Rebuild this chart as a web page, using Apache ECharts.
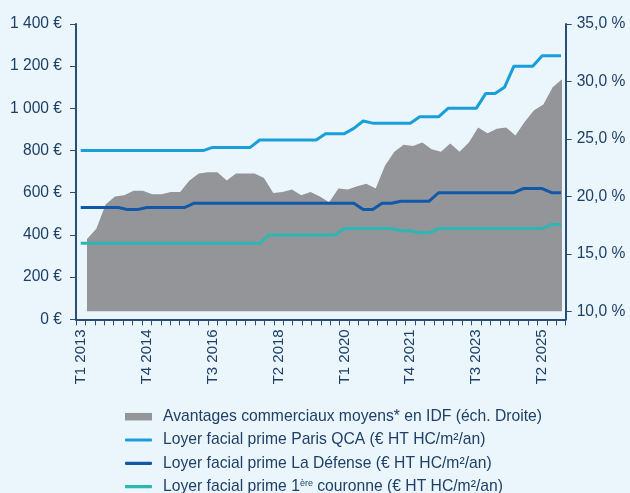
<!DOCTYPE html>
<html>
<head>
<meta charset="utf-8">
<script src="https://cdn.jsdelivr.net/npm/echarts@6/dist/echarts.min.js"></script>
<style>
html,body{margin:0;padding:0;background:#eaf6fc;}
#c{width:630px;height:493px;}
</style>
</head>
<body>
<div id="c"></div>
<script>
var categories = [
 'T1 2013','T2 2013','T3 2013','T4 2013',
 'T1 2014','T2 2014','T3 2014','T4 2014',
 'T1 2015','T2 2015','T3 2015','T4 2015',
 'T1 2016','T2 2016','T3 2016','T4 2016',
 'T1 2017','T2 2017','T3 2017','T4 2017',
 'T1 2018','T2 2018','T3 2018','T4 2018',
 'T1 2019','T2 2019','T3 2019','T4 2019',
 'T1 2020','T2 2020','T3 2020','T4 2020',
 'T1 2021','T2 2021','T3 2021','T4 2021',
 'T1 2022','T2 2022','T3 2022','T4 2022',
 'T1 2023','T2 2023','T3 2023','T4 2023',
 'T1 2024','T2 2024','T3 2024','T4 2024',
 'T1 2025','T2 2025','T3 2025','T4 2025'
];

// Avantages commerciaux moyens (%), right axis
var avantages = [16.3,17.2,19.3,20.0,20.1,20.5,20.5,20.2,20.2,20.4,20.4,21.4,22.0,22.1,22.1,21.4,22.0,22.0,22.0,21.6,
 20.3,20.4,20.6,20.1,20.4,20.0,19.5,20.7,20.6,20.9,21.1,20.7,22.7,23.9,24.5,24.4,24.7,24.1,23.9,24.6,
 23.9,24.7,26.0,25.5,25.9,26.0,25.3,26.5,27.5,28.0,29.5,30.2];

// Loyers faciaux prime (€ HT HC/m²/an), left axis
var parisQCA = [800,800,800,800,800,800,800,800,800,800,800,800,800,800,
 815,815,815,815,815,
 850,850,850,850,850,850,850,
 880,880,880,905,940,
 930,930,930,930,930,
 960,960,960,
 1000,1000,1000,1000,
 1070,1070,1100,
 1200,1200,1200,
 1250,1250,1250];

var laDefense = [530,530,530,530,530,520,520,530,530,530,530,530,
 550,550,550,550,550,550,550,550,550,550,550,550,550,550,550,550,550,550,
 520,520,550,550,560,560,560,560,
 600,600,600,600,600,600,600,600,600,
 620,620,620,600,600];

var couronne = [360,360,360,360,360,360,360,360,360,360,360,360,360,360,360,360,360,360,360,360,
 400,400,400,400,400,400,400,400,
 430,430,430,430,430,430,
 420,420,410,410,
 430,430,430,430,430,430,430,430,430,430,430,430,
 450,450];

var names = [
 'Avantages commerciaux moyens* en IDF (éch. Droite)',
 'Loyer facial prime Paris QCA (€ HT HC/m²/an)',
 'Loyer facial prime La Défense (€ HT HC/m²/an)',
 'Loyer facial prime 1ère couronne (€ HT HC/m²/an)'
];

var TXT = '#1e3f66';
var AX = '#2a4d77';
var FONT = '"Liberation Sans", Arial, sans-serif';
var C_AREA = '#939598', C_QCA = '#189fdb', C_DEF = '#1159a8', C_COUR = '#2db7b4';

function fmtEuro(v){
  var s = String(v);
  if (v >= 1000) s = s.slice(0, s.length-3) + ' ' + s.slice(s.length-3);
  return s + ' €';
}
function fmtPct(v){ return v.toFixed(1).replace('.', ',') + ' %'; }

var legendText = {color: TXT, fontSize: 15.7, lineHeight: 16, fontFamily: FONT, padding: [0,0,0,6],
  rich: {sup: {fontSize: 9, lineHeight: 16, verticalAlign: 'top', color: TXT, fontFamily: FONT}}};
function legendFmt(n){ return n.replace('ère', '{sup|ère}'); }

var chart = echarts.init(document.getElementById('c'), null, {renderer:'canvas'});
chart.setOption({
  animation: false,
  backgroundColor: '#eaf6fc',
  textStyle: {fontFamily: FONT},
  grid: [
    {left: 76, right: 64.3, top: 24, bottom: 173.7, containLabel: false},
    {left: 87, right: 68, top: 24, bottom: 181.5, containLabel: false}
  ],
  xAxis: [
    {
      type: 'category', gridIndex: 0, data: categories, boundaryGap: true,
      axisLine: {show: true, lineStyle: {color: AX, width: 2}},
      axisTick: {show: true, interval: 0, length: 6, lineStyle: {color: AX, width: 1}},
      axisLabel: {interval: 6, rotate: 90, margin: 10, color: TXT, fontSize: 15, fontFamily: FONT},
      splitLine: {show: false}
    },
    {
      type: 'category', gridIndex: 1, data: categories, boundaryGap: false, show: false
    }
  ],
  yAxis: [
    {
      type: 'value', gridIndex: 0, position: 'left', min: 0, max: 1400, interval: 200,
      axisLine: {show: true, lineStyle: {color: AX, width: 2}},
      axisTick: {show: true, length: 6, lineStyle: {color: AX, width: 1}},
      axisLabel: {margin: 14, color: TXT, fontSize: 15.6, fontFamily: FONT, formatter: fmtEuro},
      splitLine: {show: false}
    },
    {
      type: 'value', gridIndex: 0, position: 'right', min: 0, max: 1,
      axisLine: {show: true, lineStyle: {color: AX, width: 2}},
      axisTick: {show: false}, axisLabel: {show: false}, splitLine: {show: false}
    },
    {
      type: 'value', gridIndex: 1, position: 'right', offset: 3.7, min: 10, max: 35, interval: 5,
      axisLine: {show: false},
      axisTick: {show: true, length: 6, lineStyle: {color: AX, width: 1}},
      axisLabel: {margin: 11, color: TXT, fontSize: 15.6, fontFamily: FONT, formatter: fmtPct},
      splitLine: {show: false}
    }
  ],
  legend: [
    {
      orient: 'vertical', left: 125, top: 408.7, padding: 0,
      itemWidth: 27, itemHeight: 7.5, itemGap: 7.3,
      textStyle: legendText, formatter: legendFmt,
      data: [{name: names[0], icon: 'rect', itemStyle: {color: C_AREA}}]
    },
    {
      orient: 'vertical', left: 125, top: 432, padding: 0,
      itemWidth: 27, itemHeight: 3.2, itemGap: 7.3,
      textStyle: legendText, formatter: legendFmt,
      data: [
        {name: names[1], icon: 'roundRect', itemStyle: {color: C_QCA}},
        {name: names[2], icon: 'roundRect', itemStyle: {color: C_DEF}}
      ]
    },
    {
      orient: 'vertical', left: 125, top: 478.6, padding: 0,
      itemWidth: 27, itemHeight: 3.2, itemGap: 7.3,
      textStyle: legendText, formatter: legendFmt,
      data: [{name: names[3], icon: 'roundRect', itemStyle: {color: C_COUR}}]
    }
  ],
  series: [
    {
      name: names[0], type: 'line', xAxisIndex: 1, yAxisIndex: 2, data: avantages,
      symbol: 'none', showSymbol: false,
      itemStyle: {color: C_AREA},
      lineStyle: {width: 0, color: C_AREA},
      areaStyle: {color: C_AREA, opacity: 1, origin: 'start'},
      z: 1
    },
    {
      name: names[1], type: 'line', xAxisIndex: 0, yAxisIndex: 0, data: parisQCA,
      symbol: 'none', showSymbol: false, itemStyle: {color: C_QCA},
      lineStyle: {width: 3, color: C_QCA}, z: 3
    },
    {
      name: names[2], type: 'line', xAxisIndex: 0, yAxisIndex: 0, data: laDefense,
      symbol: 'none', showSymbol: false, itemStyle: {color: C_DEF},
      lineStyle: {width: 3, color: C_DEF}, z: 3
    },
    {
      name: names[3], type: 'line', xAxisIndex: 0, yAxisIndex: 0, data: couronne,
      symbol: 'none', showSymbol: false, itemStyle: {color: C_COUR},
      lineStyle: {width: 3, color: C_COUR}, z: 3
    }
  ]
});
</script>
</body>
</html>
